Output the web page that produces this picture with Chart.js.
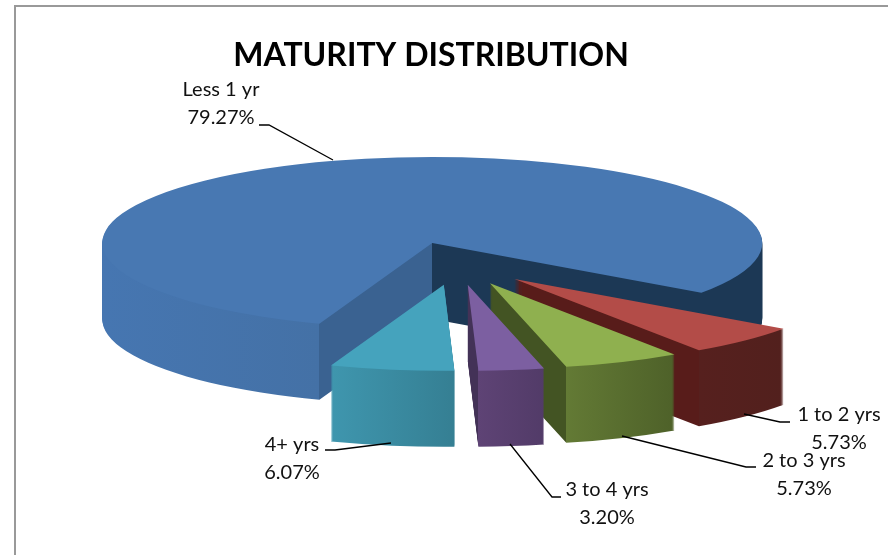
<!DOCTYPE html>
<html>
<head>
<meta charset="utf-8">
<script src="https://cdn.jsdelivr.net/npm/chart.js@4"></script>
<style>
  html, body { margin: 0; padding: 0; background: #fff; }
  canvas { display: block; }
</style>
</head>
<body>
<canvas id="pie-chart" width="888" height="555"></canvas>
<script>
// maturity data
var categories = ["Less 1 yr", "1 to 2 yrs", "2 to 3 yrs", "3 to 4 yrs", "4+ yrs"];
var shares = [79.27, 5.73, 5.73, 3.20, 6.07];

// look of the 3d pie
var topColors = ["#4878b2", "#b34c48", "#8fb04f", "#7c5fa1", "#45a3bd"];
var wallColors = [
    ["#4676b1", "#4471a6", "#3a6291", "#1c3855"],
    ["#581c1a", "#56201e", "#52201d"],
    ["#435423", "#637a35", "#4e6129"],
    ["#433257", "#5e4375", "#523b68"],
    ["#3f96ae", "#3f96ae", "#357f93"]
];
var pieBox = { x: 456.8, y: 263.5, rx: 330, ry: 86, depth: 76, explode: 0.25 };

// callouts: text anchor and leader line
var labelSpots = [[221, 90], [839, 415], [804, 461], [607, 490], [292, 445]];
var leaders = [
    [[259, 125], [269, 125], [333, 160]],
    [[744, 414], [780, 422], [790, 422]],
    [[622, 436], [746, 467], [756, 467]],
    [[510, 444], [552, 497], [561, 497]],
    [[391, 443], [335, 450], [325, 450]]
];

function stampArc(ctx, arc, color) {
    var keep = arc.options.backgroundColor;
    arc.options.backgroundColor = color;
    arc.draw(ctx);
    arc.options.backgroundColor = keep;
}

// side walls are one fill, split left to right by the arc's own angles
function wallFill(ctx, arc, i) {
    var R = arc.outerRadius;
    var g = ctx.createLinearGradient(arc.x - R, 0, arc.x + R, 0);
    var at = function (c) { return Math.min(1, Math.max(0, (c + 1) / 2)); };
    var c0 = Math.cos(arc.startAngle);
    var c1 = Math.cos(arc.endAngle);
    var w = wallColors[i];
    if (i === 0) {
        g.addColorStop(0, w[0]);
        g.addColorStop(at(c0), w[1]);
        g.addColorStop(at(c0), w[2]);
        g.addColorStop(at(0), w[2]);
        g.addColorStop(at(0), w[3]);
        g.addColorStop(1, w[3]);
    } else {
        g.addColorStop(0, w[0]);
        g.addColorStop(at(c1), w[0]);
        g.addColorStop(at(c1), w[1]);
        g.addColorStop(at(c0), w[2]);
        g.addColorStop(1, w[2]);
    }
    return g;
}

var pie3d = {
    id: 'pie3d',
    beforeDatasetsDraw: function (chart) {
        var ctx = chart.ctx;
        var arcs = chart.getDatasetMeta(0).data;
        arcs.forEach(function (arc, i) {
            var R = arc.outerRadius;
            var mid = (arc.startAngle + arc.endAngle) / 2;
            var sx = pieBox.rx / R;
            var sy = pieBox.ry / R;
            ctx.save();
            ctx.translate(pieBox.x + Math.cos(mid) * pieBox.explode * pieBox.rx,
                pieBox.y + Math.sin(mid) * pieBox.explode * pieBox.ry);
            ctx.scale(sx, sy);
            ctx.translate(-arc.x, -arc.y);
            var fill = wallFill(ctx, arc, i);
            for (var d = pieBox.depth; d > 0; d--) {
                ctx.save();
                ctx.translate(0, d / sy);
                stampArc(ctx, arc, fill);
                ctx.restore();
            }
            stampArc(ctx, arc, topColors[i]);
            ctx.restore();
        });
        return false;
    },
    afterDraw: function (chart) {
        var ctx = chart.ctx;
        ctx.save();
        // frame, only top and left
        ctx.strokeStyle = "#999999";
        ctx.lineWidth = 2;
        ctx.beginPath();
        ctx.moveTo(888, 6);
        ctx.lineTo(15, 6);
        ctx.lineTo(15, 555);
        ctx.stroke();
        // leaders
        ctx.strokeStyle = "#000";
        ctx.lineWidth = 1.3;
        leaders.forEach(function (pts) {
            ctx.beginPath();
            pts.forEach(function (p, k) {
                if (k === 0) ctx.moveTo(p[0], p[1]);
                else ctx.lineTo(p[0], p[1]);
            });
            ctx.stroke();
        });
        // labels
        ctx.fillStyle = "#111";
        ctx.font = "20px Lato";
        ctx.textAlign = "center";
        ctx.textBaseline = "middle";
        categories.forEach(function (name, i) {
            ctx.fillText(name, labelSpots[i][0], labelSpots[i][1]);
            ctx.fillText(shares[i].toFixed(2) + "%", labelSpots[i][0], labelSpots[i][1] + 28);
        });
        ctx.restore();
    }
};

new Chart(document.getElementById('pie-chart'), {
    type: 'pie',
    data: {
        labels: categories,
        datasets: [{
            data: shares,
            backgroundColor: topColors,
            borderWidth: 0
        }]
    },
    options: {
        responsive: false,
        animation: false,
        rotation: 200,
        layout: { padding: { right: 26 } },
        plugins: {
            legend: { display: false },
            tooltip: { enabled: false },
            title: {
                display: true,
                text: "MATURITY DISTRIBUTION",
                color: "#000",
                font: { family: "Lato", size: 32, weight: "bold" },
                padding: { top: 36, bottom: 10 }
            }
        }
    },
    plugins: [pie3d]
});
</script>
</body>
</html>
